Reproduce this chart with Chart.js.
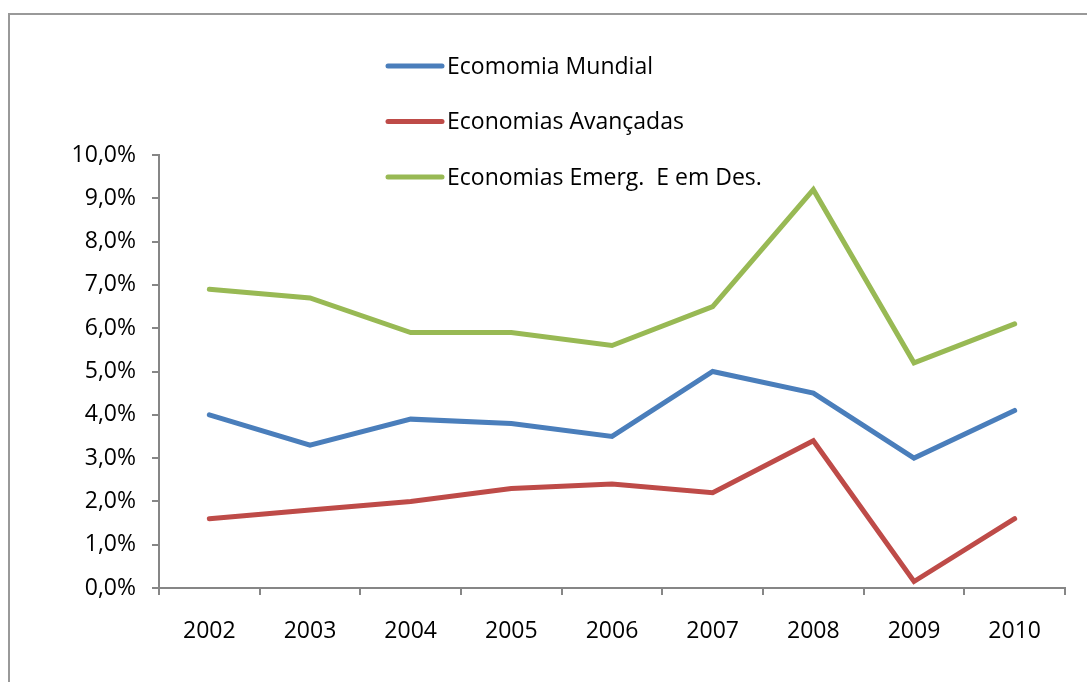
<!DOCTYPE html>
<html>
<head>
<meta charset="utf-8">
<script src="https://cdn.jsdelivr.net/npm/chart.js@4/dist/chart.umd.min.js"></script>
<style>
  html, body { margin: 0; padding: 0; background: #fff; overflow: hidden; }
  #frame { position: absolute; left: 8px; top: 13px; width: 1200px; height: 800px; border: 2px solid #999; }
  #wrap { position: absolute; left: 0; top: 0; width: 1087px; height: 682px; }
</style>
</head>
<body>
<div id="frame"></div>
<div id="wrap"><canvas id="chart" width="1087" height="682"></canvas></div>
<script>
// valores (% ao ano)
const anos = ['2002', '2003', '2004', '2005', '2006', '2007', '2008', '2009', '2010'];
const mundial = [4.0, 3.3, 3.9, 3.8, 3.5, 5.0, 4.5, 3.0, 4.1];
const avancadas = [1.6, 1.8, 2.0, 2.3, 2.4, 2.2, 3.4, 0.15, 1.6];
const emergentes = [6.9, 6.7, 5.9, 5.9, 5.6, 6.5, 9.2, 5.2, 6.1];
const nomes = ['Ecomomia Mundial', 'Economias Avançadas', 'Economias Emerg.  E em Des.'];
const cores = ['#4A7EBB', '#BE4B48', '#98B954'];

const fonte = { family: '"Open Sans", sans-serif', size: 23 };
const cinza = '#868686';

// legenda dentro da área do gráfico, como no original
const legendaInterna = {
    id: 'legendaInterna',
    afterDraw(chart) {
        const ctx = chart.ctx;
        ctx.save();
        ctx.font = fonte.size + 'px ' + fonte.family;
        ctx.textBaseline = 'middle';
        chart.data.datasets.forEach((ds, i) => {
            const y = 66 + i * 55.5;
            ctx.strokeStyle = ds.borderColor;
            ctx.lineWidth = 5;
            ctx.lineCap = 'round';
            ctx.beginPath();
            ctx.moveTo(388, y);
            ctx.lineTo(442, y);
            ctx.stroke();
            ctx.fillStyle = '#000';
            ctx.fillText(ds.label, 447, y + 1);
        });
        ctx.restore();
    }
};

const series = [mundial, avancadas, emergentes];

new Chart(document.getElementById('chart'), {
    type: 'line',
    data: {
        labels: anos,
        datasets: series.map((s, i) => ({
            label: nomes[i],
            data: s,
            borderColor: cores[i],
            backgroundColor: cores[i],
            borderWidth: 5,
            pointRadius: 0,
            tension: 0,
            borderJoinStyle: 'miter',
            borderCapStyle: 'round'
        }))
    },
    options: {
        responsive: false,
        animation: false,
        layout: { padding: { left: 0, top: 155, right: 22, bottom: 0 } },
        plugins: {
            legend: { display: false },
            tooltip: { enabled: false }
        },
        scales: {
            x: {
                offset: true,
                grid: { offset: true, drawOnChartArea: false, color: cinza, lineWidth: 2, tickLength: 7 },
                border: { color: cinza, width: 2 },
                ticks: { color: '#000', font: fonte, padding: 23, maxRotation: 0 },
                afterFit(scale) { scale.height = 94; }
            },
            y: {
                min: 0,
                max: 10,
                grid: { drawOnChartArea: false, color: cinza, lineWidth: 2, tickLength: 7 },
                border: { color: cinza, width: 2 },
                ticks: {
                    stepSize: 1,
                    color: '#000',
                    font: fonte,
                    padding: 16,
                    callback: v => v.toFixed(1).replace('.', ',') + '%'
                },
                afterFit(scale) { scale.width = 159; }
            }
        }
    },
    plugins: [legendaInterna]
});
</script>
</body>
</html>
